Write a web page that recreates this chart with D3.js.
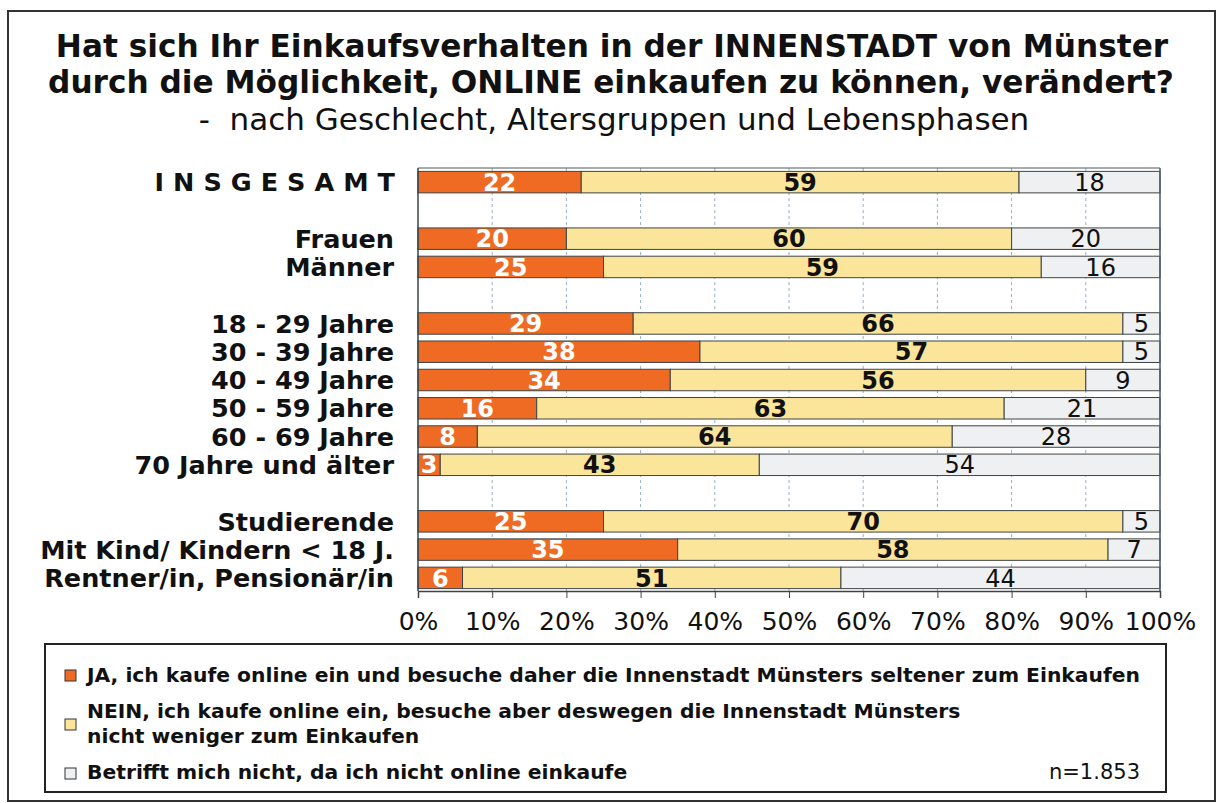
<!DOCTYPE html>
<html>
<head>
<meta charset="utf-8">
<script src="https://cdn.jsdelivr.net/npm/d3@7"></script>
<style>
  body { margin: 0; background: #fff; }
  svg { display: block; font-family: "DejaVu Sans", Verdana, sans-serif; }
</style>
</head>
<body>
<script>
// Werte aus der Grafik (Prozent)
const categories = [
  "INSGESAMT", "Frauen", "Männer",
  "18 - 29 Jahre", "30 - 39 Jahre", "40 - 49 Jahre", "50 - 59 Jahre", "60 - 69 Jahre", "70 Jahre und älter",
  "Studierende", "Mit Kind/ Kindern < 18 J.", "Rentner/in, Pensionär/in"
]
// wo nach einer Kategorie eine Leerzeile kommt
const gapAfter = ["INSGESAMT", "Männer", "70 Jahre und älter"]

const ja     = [22, 20, 25, 29, 38, 34, 16, 8, 3, 25, 35, 6]
const nein   = [59, 60, 59, 66, 57, 56, 63, 64, 43, 70, 58, 51]
const nicht  = [18, 20, 16, 5, 5, 9, 21, 28, 54, 5, 7, 44]

const ticks = [0, 10, 20, 30, 40, 50, 60, 70, 80, 90, 100]

const legendLabels = [
  ["JA, ich kaufe online ein und besuche daher die Innenstadt Münsters seltener zum Einkaufen"],
  ["NEIN, ich kaufe online ein, besuche aber deswegen die Innenstadt Münsters", "nicht weniger zum Einkaufen"],
  ["Betrifft mich nicht, da ich nicht online einkaufe"]
]
const colors = ["#ef6a22", "#fbe59b", "#eef0f2"]

const width = 1217, height = 803

const svg = d3.select("body").append("svg")
  .attr("width", width)
  .attr("height", height)

// Rahmen
svg.append("rect")
  .attr("x", 8).attr("y", 11)
  .attr("width", 1207).attr("height", 790)
  .attr("fill", "#fff")
  .attr("stroke", "#333")
  .attr("stroke-width", 2)

// Titel
const title = svg.append("g").attr("text-anchor", "middle").attr("fill", "#111")
title.append("text").attr("x", 612).attr("y", 57)
  .attr("font-size", 31.2).attr("font-weight", "bold")
  .text("Hat sich Ihr Einkaufsverhalten in der INNENSTADT von Münster")
title.append("text").attr("x", 611).attr("y", 93)
  .attr("font-size", 31.2).attr("font-weight", "bold")
  .text("durch die Möglichkeit, ONLINE einkaufen zu können, verändert?")
title.append("text").attr("x", 614).attr("y", 130)
  .attr("font-size", 31)
  .attr("xml:space", "preserve")
  .text("-  nach Geschlecht, Altersgruppen und Lebensphasen")

// Zeilen inkl. Leerzeilen
let slots = []
categories.forEach((c, i) => {
  slots.push(c)
  if (gapAfter.includes(c)) slots.push("gap" + i)
})

const x = d3.scaleLinear().domain([0, 100]).range([418, 1160])
const y = d3.scaleBand().domain(slots).range([168, 592])
  .paddingInner(0.24).paddingOuter(0.12)

// Gitterlinien
svg.append("g")
  .selectAll("line")
  .data(ticks.slice(1, -1))
  .enter()
  .append("line")
    .attr("x1", d => x(d)).attr("x2", d => x(d))
    .attr("y1", 168).attr("y2", 591)
    .attr("stroke", "#9bb0c2")
    .attr("stroke-width", 1)
    .attr("stroke-dasharray", "3,3")

// gestapelte Balken (letztes Segment bis 100 %, Rundung)
const rows = categories.map((c, i) => {
  const vals = [ja[i], nein[i], nicht[i]]
  let acc = 0
  return vals.map((v, k) => {
    const seg = { cat: c, k: k, v: v, x0: acc, x1: k === 2 ? 100 : Math.min(100, acc + v) }
    acc += v
    return seg
  })
})
const segs = rows.flat()

svg.append("g")
  .selectAll("rect")
  .data(segs)
  .enter()
  .append("rect")
    .attr("x", d => x(d.x0))
    .attr("y", d => y(d.cat))
    .attr("width", d => x(d.x1) - x(d.x0))
    .attr("height", y.bandwidth())
    .attr("fill", d => colors[d.k])
    .attr("stroke", "#3d4446")
    .attr("stroke-width", 1)

svg.append("g")
  .attr("text-anchor", "middle")
  .selectAll("text")
  .data(segs)
  .enter()
  .append("text")
    .attr("x", d => x((d.x0 + d.x1) / 2))
    .attr("y", d => y(d.cat) + y.bandwidth() / 2)
    .attr("dy", "0.36em")
    .attr("font-size", 24)
    .attr("font-weight", d => d.k < 2 ? "bold" : "normal")
    .attr("fill", d => d.k === 0 ? "#fff" : "#111")
    .text(d => d.v)

// Rahmen des Diagramms
svg.append("line")
  .attr("x1", x(0)).attr("x2", x(100)).attr("y1", 168).attr("y2", 168)
  .attr("stroke", "#4a5a62").attr("stroke-width", 1)
svg.append("line")
  .attr("x1", x(100)).attr("x2", x(100)).attr("y1", 168).attr("y2", 591)
  .attr("stroke", "#4a5a62").attr("stroke-width", 1.5)
svg.append("line")
  .attr("x1", x(0)).attr("x2", x(0)).attr("y1", 168).attr("y2", 591)
  .attr("stroke", "#3d4446").attr("stroke-width", 1.5)

// x-Achse
const xAxis = svg.append("g")
  .attr("transform", "translate(0,591)")
  .call(d3.axisBottom(x).tickValues(ticks).tickFormat(d => d + "%").tickSize(7).tickPadding(14))
xAxis.select(".domain").attr("stroke", "#3d4446").attr("stroke-width", 1.5)
xAxis.selectAll(".tick line").attr("stroke", "#3d4446")
xAxis.selectAll("text")
  .attr("font-size", 25)
  .attr("font-family", "DejaVu Sans, Verdana, sans-serif")
  .attr("fill", "#111")

// Kategorien
svg.append("g")
  .attr("text-anchor", "end")
  .selectAll("text")
  .data(categories)
  .enter()
  .append("text")
    .attr("x", d => d === "INSGESAMT" ? 404 : 394)
    .attr("y", d => y(d) + y.bandwidth() / 2)
    .attr("dy", "0.36em")
    .attr("font-size", 25.5)
    .attr("font-weight", "bold")
    .attr("fill", "#111")
    .attr("letter-spacing", d => d === "INSGESAMT" ? "9px" : null)
    .text(d => d)

// Legende
svg.append("rect")
  .attr("x", 45).attr("y", 644)
  .attr("width", 1121).attr("height", 148)
  .attr("fill", "#fff")
  .attr("stroke", "#222")
  .attr("stroke-width", 2)

const legendY = [[682], [718, 743], [779]]
const boxY = [670, 719, 768]
const legend = svg.append("g")
legendLabels.forEach((lines, i) => {
  legend.append("rect")
    .attr("x", 65).attr("y", boxY[i])
    .attr("width", 11).attr("height", 11)
    .attr("fill", colors[i])
    .attr("stroke", "#333")
    .attr("stroke-width", 1)
  lines.forEach((t, j) => {
    legend.append("text")
      .attr("x", 87).attr("y", legendY[i][j])
      .attr("font-size", 20.3)
      .attr("font-weight", "bold")
      .attr("fill", "#111")
      .text(t)
  })
})
legend.append("text")
  .attr("x", 1140).attr("y", 779)
  .attr("text-anchor", "end")
  .attr("font-size", 21)
  .attr("fill", "#111")
  .text("n=1.853")
</script>
</body>
</html>
